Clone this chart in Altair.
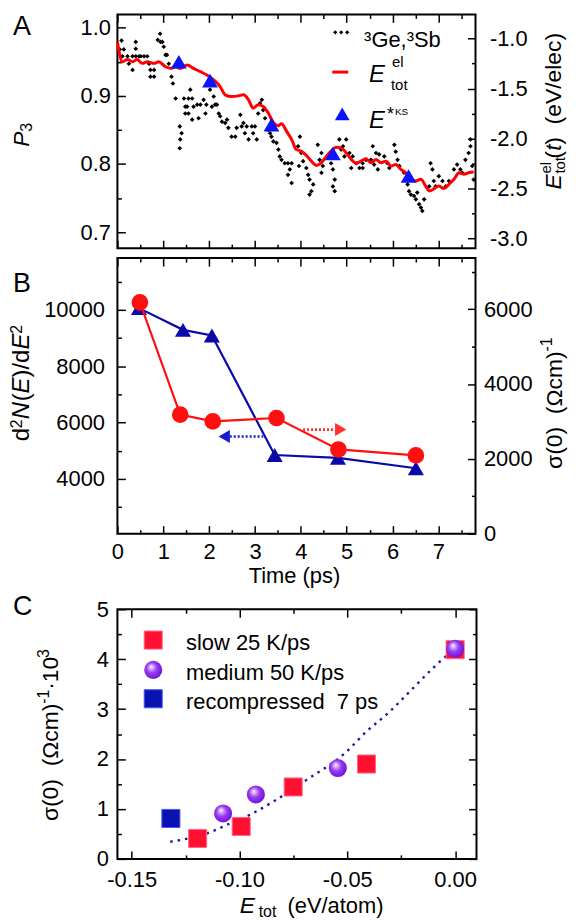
import altair as alt
import pandas as pd

FONT = "Liberation Sans"

# ---------------- Panel A data ----------------
# P3 samples (time ps, P3)
DOTS = [
    (0.09, 0.981), (0.05, 0.968), (0.14, 0.968), (0.11, 0.958),
    (0.22, 0.958), (0.33, 0.958), (0.40, 0.958), (0.47, 0.958), (0.51, 0.958), (0.58, 0.958), (0.65, 0.958),
    (0.25, 0.947), (0.33, 0.938), (0.40, 0.979), (0.40, 0.969),
    (0.69, 0.947), (0.72, 0.938), (0.80, 0.928), (0.72, 0.928), (0.80, 0.938),
    (0.93, 0.991), (0.88, 0.982), (0.94, 0.979), (0.98, 0.979), (1.01, 0.972), (1.05, 0.960), (1.08, 0.960), (1.12, 0.947),
    (1.18, 0.928), (1.21, 0.918), (1.27, 0.896),
    (1.36, 0.855), (1.40, 0.845), (1.37, 0.836), (1.36, 0.823),
    (1.45, 0.896), (1.48, 0.884), (1.48, 0.874),
    (1.59, 0.909), (1.55, 0.896), (1.63, 0.896), (1.52, 0.884), (1.66, 0.884), (1.55, 0.874), (1.63, 0.865),
    (1.74, 0.887), (1.81, 0.887), (1.77, 0.867),
    (1.88, 0.894), (1.94, 0.887), (1.92, 0.874),
    (2.02, 0.909), (2.10, 0.899), (2.13, 0.887), (2.06, 0.884),
    (2.17, 0.887), (2.21, 0.874), (2.24, 0.870), (2.28, 0.862),
    (2.35, 0.860), (2.42, 0.853), (2.39, 0.865),
    (2.49, 0.840), (2.57, 0.840), (2.60, 0.853),
    (2.68, 0.872), (2.75, 0.860), (2.71, 0.855), (2.78, 0.845), (2.82, 0.855), (2.86, 0.836),
    (2.93, 0.855), (3.00, 0.855), (2.96, 0.845), (3.04, 0.836),
    (3.07, 0.874), (3.11, 0.889), (3.15, 0.894), (3.18, 0.879), (3.22, 0.867),
    (3.29, 0.850), (3.33, 0.845), (3.36, 0.840), (3.40, 0.833),
    (3.47, 0.831), (3.51, 0.821), (3.54, 0.811), (3.58, 0.806),
    (3.65, 0.801), (3.72, 0.801), (3.80, 0.801), (3.76, 0.792), (3.72, 0.784), (3.80, 0.772),
    (3.98, 0.840), (3.94, 0.826), (4.01, 0.816), (4.05, 0.804), (3.96, 0.797),
    (4.12, 0.794), (4.16, 0.784), (4.19, 0.777), (4.27, 0.770), (4.23, 0.760), (4.19, 0.755),
    (4.37, 0.828), (4.45, 0.816), (4.41, 0.806), (4.48, 0.797), (4.45, 0.787),
    (4.63, 0.811), (4.66, 0.801), (4.70, 0.792), (4.74, 0.777), (4.70, 0.767), (4.74, 0.760),
    (4.84, 0.836), (4.92, 0.826), (4.88, 0.821), (4.99, 0.836), (4.95, 0.811),
    (5.06, 0.816), (5.13, 0.811), (5.21, 0.801), (5.10, 0.794),
    (5.28, 0.794), (5.35, 0.801), (5.42, 0.806), (5.35, 0.794),
    (5.57, 0.826), (5.64, 0.816), (5.71, 0.814), (5.53, 0.806), (5.60, 0.799), (5.68, 0.792),
    (5.82, 0.811), (5.89, 0.801), (5.93, 0.794),
    (6.04, 0.828), (6.07, 0.818), (6.11, 0.806), (6.15, 0.797),
    (6.25, 0.787), (6.29, 0.777), (6.33, 0.770), (6.36, 0.760), (6.40, 0.755),
    (6.47, 0.753), (6.51, 0.748), (6.58, 0.741), (6.62, 0.736), (6.65, 0.731), (6.69, 0.748), (6.54, 0.758),
    (6.83, 0.801), (6.87, 0.792), (6.90, 0.775), (6.80, 0.767), (6.94, 0.767),
    (7.01, 0.782), (7.09, 0.775), (7.16, 0.767), (7.23, 0.775),
    (7.34, 0.792), (7.41, 0.799), (7.48, 0.792), (7.52, 0.787),
    (7.59, 0.806), (7.66, 0.816), (7.70, 0.826), (7.70, 0.836), (7.74, 0.797), (7.77, 0.777),
]
LINE_T = [0.00, 0.11, 0.22, 0.33, 0.43, 0.54, 0.65, 0.80, 0.90, 1.05, 1.16, 1.27, 1.37, 1.52, 1.66,
          1.81, 1.95, 2.10, 2.24, 2.35, 2.49, 2.64, 2.75, 2.86, 2.96, 3.07, 3.18, 3.29, 3.40, 3.51,
          3.58, 3.69, 3.80, 3.90, 4.01, 4.12, 4.23, 4.34, 4.45, 4.56, 4.66, 4.77, 4.88, 4.99, 5.10,
          5.21, 5.31, 5.42, 5.53, 5.64, 5.75, 5.86, 5.97, 6.07, 6.18, 6.29, 6.40, 6.51, 6.62, 6.72,
          6.80, 6.91, 7.01, 7.12, 7.23, 7.34, 7.45, 7.56, 7.66, 7.77]
LINE_E = [-1.033, -1.232, -1.209, -1.232, -1.209, -1.248, -1.232, -1.248, -1.232, -1.282, -1.298, -1.282, -1.298, -1.265, -1.298,
          -1.331, -1.364, -1.414, -1.480, -1.563, -1.580, -1.573, -1.563, -1.613, -1.696, -1.663, -1.679, -1.745, -1.838, -1.871,
          -1.851, -1.928, -2.010, -2.110, -2.126, -2.169, -2.226, -2.269, -2.242, -2.176, -2.126, -2.087, -2.093, -2.143, -2.209,
          -2.249, -2.226, -2.203, -2.242, -2.209, -2.242, -2.226, -2.276, -2.259, -2.309, -2.342, -2.408, -2.425, -2.408, -2.474,
          -2.524, -2.501, -2.474, -2.501, -2.458, -2.408, -2.342, -2.358, -2.342, -2.335]
KS_T = [1.34, 2.02, 3.36, 4.70, 6.35]
KS_E = [-1.232, -1.421, -1.861, -2.150, -2.375]

# ---------------- Panel B data ----------------
BLUE_T = [0.47, 1.43, 2.06, 3.43, 4.81, 6.51]
BLUE_D2N = [10060, 9290, 9090, 4850, 4750, 4380]
RED_T = [0.49, 1.37, 2.08, 3.47, 4.82, 6.51]
RED_SIGMA = [6180, 3180, 3000, 3090, 2250, 2090]
BARROW_T = [3.18, 2.45]
BARROW_Y = [5506, 5506]
BHEAD_T = [2.33]
RARROW_T = [4.05, 4.75]
RARROW_Y = [2781, 2781]
RHEAD_T = [4.87]

# ---------------- Panel C data ----------------
SLOW_X = [-0.1194, -0.0992, -0.0751, -0.0411, 0.0]
SLOW_Y = [0.41, 0.65, 1.44, 1.90, 4.19]
MED_X = [-0.1076, -0.0924, -0.0544, 0.0]
MED_Y = [0.91, 1.29, 1.82, 4.21]
REC_X = [-0.1318]
REC_Y = [0.81]
FIT_X = [-0.1321, -0.1237, -0.1130, -0.1069, -0.0962, -0.0839, -0.0687, -0.0511, -0.0411, -0.0304, -0.0197, -0.0106, -0.0014]
FIT_Y = [0.344, 0.411, 0.543, 0.662, 0.861, 1.159, 1.589, 2.119, 2.550, 2.947, 3.411, 3.808, 4.172]

# ---------------- ticks ----------------
T_MAJOR = [0, 1, 2, 3, 4, 5, 6, 7]
T_MINOR = [0.5, 1.5, 2.5, 3.5, 4.5, 5.5, 6.5, 7.5]
P_MAJOR = [0.7, 0.8, 0.9, 1.0]
P_MINOR = [0.75, 0.85, 0.95]
EA_MAJOR = [-3.0, -2.5, -2.0, -1.5, -1.0]
EA_MINOR = [-2.75, -2.25, -1.75, -1.25]
BL_MAJOR = [4000, 6000, 8000, 10000]
BL_MINOR = [3000, 5000, 7000, 9000, 11000]
BR_MAJOR = [0, 2000, 4000, 6000]
BR_MINOR = [1000, 3000, 5000, 7000]
CX_MAJOR = [-0.15, -0.10, -0.05, 0.0]
CX_MINOR = [-0.125, -0.075, -0.025]
CY_MAJOR = [0, 1, 2, 3, 4, 5]
CY_MINOR = [0.5, 1.5, 2.5, 3.5, 4.5]

T_DOM = [0, 7.81]
P_DOM = [0.6764, 1.0194]
EA_DOM = [-3.097, -0.758]
BL_DOM = [2059, 11835]
BR_DOM = [0, 7364]
CX_DOM = [-0.1566, 0.0099]
CY_DOM = [0, 5]

W, HA, HB, HC = 360, 235, 277, 251
NB = "\u00a0"


def sc(dom):
    return alt.Scale(domain=dom, nice=False, zero=False)


def ax(orient, values, major=True, labels=False, pad=8, fmt=None, expr=None):
    size = 8 if major else 4
    kw = dict(orient=orient, values=values, tickSize=size, offset=-size, domain=False,
              grid=False, ticks=True, tickColor="black", tickWidth=1.5, labels=labels, title=None,
              minExtent=0)
    if labels:
        kw.update(labelFont=FONT, labelFontSize=22, labelColor="black", labelPadding=pad,
                  labelOverlap=False, labelFlush=False)
        if fmt:
            kw["format"] = fmt
        if expr:
            kw["labelExpr"] = expr
    return alt.Axis(**kw)


MINUS1 = "replace(format(datum.value, '.1f'), '\u2212', '-')"
MINUS2 = "replace(format(datum.value, '.2f'), '\u2212', '-')"

ONE = pd.DataFrame({"k": [0]})


def txt(s, x, y, size=22, italic=False, angle=None, align="left", baseline="alphabetic"):
    kw = dict(text=s, font=FONT, fontSize=size, color="black", align=align, baseline=baseline)
    if italic:
        kw["fontStyle"] = "italic"
    if angle is not None:
        kw["angle"] = angle
    return alt.Chart(ONE).mark_text(**kw).encode(x=alt.value(x), y=alt.value(y))


def sym(x, y, shape, size, fill, stroke=None):
    kw = dict(shape=shape, size=size, filled=True, fill=fill, opacity=1, strokeWidth=0)
    if stroke:
        kw.update(stroke=stroke, strokeWidth=1)
    return alt.Chart(ONE).mark_point(**kw).encode(x=alt.value(x), y=alt.value(y))


# ================= Panel A =================
df_dots = pd.DataFrame(DOTS, columns=["t", "p"])
df_line = pd.DataFrame({"t": LINE_T, "e": LINE_E})
df_ks = pd.DataFrame({"t": KS_T, "e": KS_E})

a_dots = alt.Chart(df_dots).mark_point(shape="diamond", filled=True, size=22, color="black", opacity=1).encode(
    x=alt.X("t:Q", scale=sc(T_DOM), axis=ax("bottom", T_MAJOR)),
    y=alt.Y("p:Q", scale=sc(P_DOM), axis=ax("left", P_MAJOR, labels=True, pad=7, expr=MINUS1)))
a_ghost = alt.Chart(df_dots).mark_point(opacity=0).encode(
    x=alt.X("t:Q", scale=sc(T_DOM), axis=ax("top", T_MINOR, major=False)),
    y=alt.Y("p:Q", scale=sc(P_DOM), axis=ax("left", P_MINOR, major=False)))
a_line = alt.Chart(df_line).mark_line(color="#ff0000", strokeWidth=3, interpolate="monotone").encode(
    x=alt.X("t:Q", scale=sc(T_DOM), axis=ax("top", T_MAJOR)),
    y=alt.Y("e:Q", scale=sc(EA_DOM), axis=ax("right", EA_MAJOR, labels=True, pad=14, expr=MINUS1)))
a_ks = alt.Chart(df_ks).mark_point(shape="triangle-up", filled=True, size=250, color="#0a14ff", opacity=1).encode(
    x=alt.X("t:Q", scale=sc(T_DOM), axis=ax("bottom", T_MINOR, major=False)),
    y=alt.Y("e:Q", scale=sc(EA_DOM), axis=ax("right", EA_MINOR, major=False)))

a_legend = [
    sym(219, 18, "diamond", 18, "black"), sym(225, 18, "diamond", 18, "black"), sym(231, 18, "diamond", 18, "black"),
    txt("\u00b3Ge,\u00b3Sb", 248, 33, size=22),
    alt.Chart(ONE).mark_rule(color="#ff0000", strokeWidth=3).encode(
        x=alt.value(216), x2=alt.value(232), y=alt.value(58)),
    txt("E", 253, 68, size=24, italic=True),
    txt("el", 276, 53, size=15),
    txt("tot", 275, 76, size=15),
    sym(226, 100, "triangle-up", 220, "#0a14ff"),
    txt("E", 253, 114, size=24, italic=True),
    txt("*", 271, 106, size=18),
    txt("KS", 279, 101, size=10),
]
a_titles = [
    txt("A", -105, 21, size=27),
    txt("P", -89, 133, size=23, italic=True, angle=270),
    txt("3", -86, 118, size=16, angle=270),
    txt("E", 446, 176, size=23, italic=True, angle=270),
    txt("el", 436, 160, size=15, angle=270),
    txt("tot", 450, 160, size=15, angle=270),
    txt("(", 446, 145, size=23, angle=270),
    txt("t", 446, 137, size=23, italic=True, angle=270),
    txt(")" + NB + NB + "(eV/elec)", 446, 131, size=23, angle=270),
]
panelA = alt.layer(a_dots, a_ghost, a_line, a_ks, *a_legend, *a_titles).resolve_scale(
    x="independent", y="independent").properties(width=W, height=HA)

# ================= Panel B =================
df_blue = pd.DataFrame({"t": BLUE_T, "v": BLUE_D2N})
df_red = pd.DataFrame({"t": RED_T, "v": RED_SIGMA})
df_barrow = pd.DataFrame({"t": BARROW_T, "v": BARROW_Y})
df_bhead = pd.DataFrame({"t": BHEAD_T, "v": BARROW_Y[:1]})
df_rarrow = pd.DataFrame({"t": RARROW_T, "v": RARROW_Y})
df_rhead = pd.DataFrame({"t": RHEAD_T, "v": RARROW_Y[:1]})
BLUE = "#0a0aa8"
RED = "#ff1010"

b_bline = alt.Chart(df_blue).mark_line(color=BLUE, strokeWidth=2.2).encode(
    x=alt.X("t:Q", scale=sc(T_DOM), axis=ax("bottom", T_MAJOR, labels=True, pad=8, fmt="d")),
    y=alt.Y("v:Q", scale=sc(BL_DOM), axis=ax("left", BL_MAJOR, labels=True, pad=13, fmt="d")))
b_bpts = alt.Chart(df_blue).mark_point(shape="triangle-up", filled=True, size=260, color=BLUE, opacity=1).encode(
    x=alt.X("t:Q", scale=sc(T_DOM), axis=ax("bottom", T_MINOR, major=False)),
    y=alt.Y("v:Q", scale=sc(BL_DOM), axis=ax("left", BL_MINOR, major=False)))
b_rline = alt.Chart(df_red).mark_line(color=RED, strokeWidth=2.2).encode(
    x=alt.X("t:Q", scale=sc(T_DOM), axis=ax("top", T_MAJOR)),
    y=alt.Y("v:Q", scale=sc(BR_DOM), axis=ax("right", BR_MAJOR, labels=True, pad=8, fmt="d")))
b_rpts = alt.Chart(df_red).mark_point(shape="circle", filled=True, size=280, color=RED, opacity=1).encode(
    x=alt.X("t:Q", scale=sc(T_DOM), axis=ax("top", T_MINOR, major=False)),
    y=alt.Y("v:Q", scale=sc(BR_DOM), axis=ax("right", BR_MINOR, major=False)))
b_barrow = alt.Chart(df_barrow).mark_line(color="#1a1ad0", strokeWidth=2.6, strokeDash=[2, 2]).encode(
    x=alt.X("t:Q", scale=sc(T_DOM), axis=None), y=alt.Y("v:Q", scale=sc(BL_DOM), axis=None))
b_bhead = alt.Chart(df_bhead).mark_point(shape="triangle-left", filled=True, size=170, color="#1a1ad0", opacity=1).encode(
    x=alt.X("t:Q", scale=sc(T_DOM), axis=None), y=alt.Y("v:Q", scale=sc(BL_DOM), axis=None))
b_rarrow = alt.Chart(df_rarrow).mark_line(color="#ff3030", strokeWidth=2.6, strokeDash=[2, 2]).encode(
    x=alt.X("t:Q", scale=sc(T_DOM), axis=None), y=alt.Y("v:Q", scale=sc(BR_DOM), axis=None))
b_rhead = alt.Chart(df_rhead).mark_point(shape="triangle-right", filled=True, size=170, color="#ff3030", opacity=1).encode(
    x=alt.X("t:Q", scale=sc(T_DOM), axis=None), y=alt.Y("v:Q", scale=sc(BR_DOM), axis=None))

b_titles = [
    txt("B", -105, 34, size=27),
    txt("Time (ps)", 178, 327, size=22, align="center"),
    # left: d2N(E)/dE2
    txt("d", -89, 184, size=24, angle=270),
    txt("2", -96, 171, size=16, angle=270),
    txt("N", -89, 162, size=24, italic=True, angle=270),
    txt("(", -89, 144, size=24, angle=270),
    txt("E", -89, 136, size=24, italic=True, angle=270),
    txt(")/d", -89, 120, size=24, angle=270),
    txt("E", -89, 92, size=24, italic=True, angle=270),
    txt("2", -96, 76, size=16, angle=270),
    # right: sigma(0) (Ohm cm)^-1
    txt("\u03c3(0)" + NB + NB + "(\u03a9cm)", 447, 212, size=23, angle=270),
    txt("-1", 437, 94, size=16, angle=270),
]
panelB = alt.layer(b_bline, b_bpts, b_rline, b_rpts, b_barrow, b_bhead, b_rarrow, b_rhead, *b_titles).resolve_scale(
    x="independent", y="independent").properties(width=W, height=HB)

# ================= spacer =================
spacer = alt.Chart(ONE).mark_point(opacity=0).encode(x=alt.value(0), y=alt.value(0)).properties(
    width=W, height=56, view=alt.ViewBackground(stroke="transparent"))

# ================= Panel C =================
df_fit = pd.DataFrame({"x": FIT_X, "y": FIT_Y})
df_slow = pd.DataFrame({"x": SLOW_X, "y": SLOW_Y})
df_med = pd.DataFrame({"x": MED_X, "y": MED_Y})
df_rec = pd.DataFrame({"x": REC_X, "y": REC_Y})

SPHERE = alt.RadialGradient(
    gradient="radial", x1=0.38, y1=0.32, r1=0.0, x2=0.45, y2=0.45, r2=0.58,
    stops=[alt.GradientStop(offset=0.0, color="#ffffff"),
           alt.GradientStop(offset=0.18, color="#d6b4ff"),
           alt.GradientStop(offset=0.5, color="#9a3cf2"),
           alt.GradientStop(offset=1.0, color="#6c10d8")])
SQ_RED = "#ff1030"
SQ_BLUE = "#0a12b4"

c_fit = alt.Chart(df_fit).mark_line(color="#1a1aa0", strokeWidth=2.4, strokeDash=[2.5, 5], interpolate="monotone").encode(
    x=alt.X("x:Q", scale=sc(CX_DOM), axis=ax("bottom", CX_MAJOR, labels=True, pad=11, expr=MINUS2)),
    y=alt.Y("y:Q", scale=sc(CY_DOM), axis=ax("left", CY_MAJOR, labels=True, pad=9, fmt="d")))
c_slow = alt.Chart(df_slow).mark_point(shape="square", filled=True, size=330, fill=SQ_RED, stroke="#ff6a8a",
                                       strokeWidth=1, opacity=1).encode(
    x=alt.X("x:Q", scale=sc(CX_DOM), axis=ax("top", CX_MAJOR)),
    y=alt.Y("y:Q", scale=sc(CY_DOM), axis=ax("right", CY_MAJOR)))
c_rec = alt.Chart(df_rec).mark_point(shape="square", filled=True, size=330, fill=SQ_BLUE, stroke="#4a5af0",
                                     strokeWidth=1, opacity=1).encode(
    x=alt.X("x:Q", scale=sc(CX_DOM), axis=ax("top", CX_MINOR, major=False)),
    y=alt.Y("y:Q", scale=sc(CY_DOM), axis=ax("right", CY_MINOR, major=False)))
c_med = alt.Chart(df_med).mark_point(shape="circle", filled=True, size=330, fill=SPHERE, strokeWidth=0, opacity=1).encode(
    x=alt.X("x:Q", scale=sc(CX_DOM), axis=ax("bottom", CX_MINOR, major=False)),
    y=alt.Y("y:Q", scale=sc(CY_DOM), axis=ax("left", CY_MINOR, major=False)))

c_legend = [
    sym(36, 31, "square", 330, SQ_RED, "#ff6a8a"),
    txt("slow 25 K/ps", 69, 41, size=22),
    sym(36, 61, "circle", 330, SPHERE),
    txt("medium 50 K/ps", 69, 71, size=22),
    sym(36, 90, "square", 330, SQ_BLUE, "#4a5af0"),
    txt("recompressed" + NB + " 7 ps", 69, 100, size=22),
]
c_titles = [
    txt("C", -105, 6, size=27),
    txt("E", 123, 305, size=23, italic=True),
    txt("tot", 142, 309, size=16),
    txt("(eV/atom)", 171, 305, size=22),
    txt("\u03c3(0)" + NB + NB + "(\u03a9cm)", -60, 213, size=23, angle=270),
    txt("-1", -69, 95, size=16, angle=270),
    txt("\u00b710", -60, 81, size=23, angle=270),
    txt("3", -69, 49, size=16, angle=270),
]
panelC = alt.layer(c_fit, c_slow, c_rec, c_med, *c_legend, *c_titles).resolve_scale(
    x="independent", y="independent").properties(width=W + 1, height=HC)

chart = alt.vconcat(panelA, panelB, spacer, panelC, spacing=10, bounds="flush").properties(
    padding={"left": 0, "top": 2, "right": 0, "bottom": 0}
).configure_view(stroke="black", strokeWidth=2)

chart.save("out.html", embed_options={"renderer": "svg", "actions": False})
